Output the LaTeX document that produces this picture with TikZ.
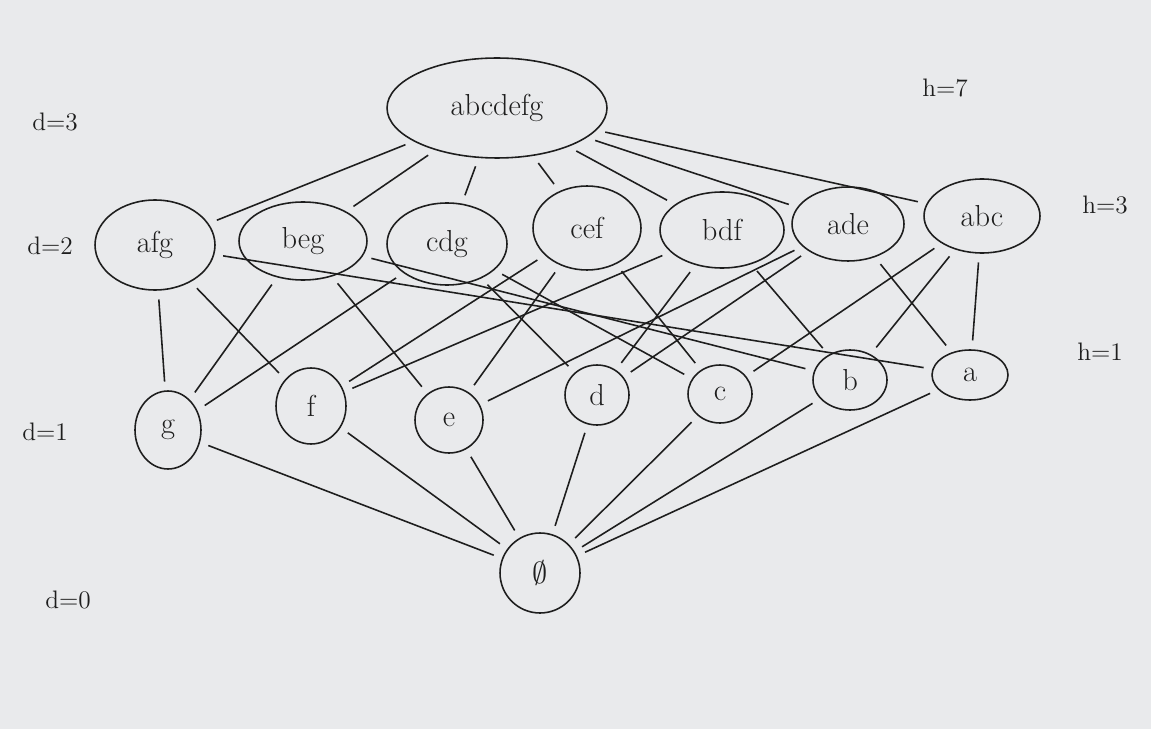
\documentclass[tikz,border=0pt]{standalone}
\usetikzlibrary{shapes.geometric}
\definecolor{paper}{RGB}{233,234,236}
\definecolor{ink}{RGB}{30,30,30}
\tikzset{
  set/.style={ellipse, draw=ink, line width=0.9pt, inner sep=0pt, font=\LARGE, text=ink},
  edge/.style={draw=ink, line width=0.9pt, shorten <=5pt, shorten >=5pt},
  lbl/.style={font=\Large, text=ink}
}
\begin{document}
\begin{tikzpicture}[x=0.02cm, y=-0.02cm]
\fill[paper] (0,0) rectangle (1151,729);
\useasboundingbox (0,0) rectangle (1151,729);
% level 3
\node[set, minimum width=4.4cm, minimum height=2cm] (top) at (497,108) {abcdefg};
% level 2
\node[set, minimum width=2.4cm, minimum height=1.8cm] (afg) at (155,245) {afg};
\node[set, minimum width=2.56cm, minimum height=1.56cm] (beg) at (303,241) {beg};
\node[set, minimum width=2.4cm, minimum height=1.64cm] (cdg) at (447,244) {cdg};
\node[set, minimum width=2.16cm, minimum height=1.68cm] (cef) at (587,228) {cef};
\node[set, minimum width=2.48cm, minimum height=1.52cm] (bdf) at (722,230) {bdf};
\node[set, minimum width=2.24cm, minimum height=1.48cm] (ade) at (848,224) {ade};
\node[set, minimum width=2.32cm, minimum height=1.48cm] (abc) at (982,216) {abc};
% level 1
\node[set, minimum width=1.32cm, minimum height=1.56cm] (g) at (168,430) {g};
\node[set, minimum width=1.4cm, minimum height=1.52cm] (f) at (311,406) {f};
\node[set, minimum width=1.36cm, minimum height=1.32cm] (e) at (449,420) {e};
\node[set, minimum width=1.28cm, minimum height=1.2cm] (d) at (597,395) {d};
\node[set, minimum width=1.28cm, minimum height=1.16cm] (c) at (720,394) {c};
\node[set, minimum width=1.48cm, minimum height=1.2cm] (b) at (850,380) {b};
\node[set, minimum width=1.52cm, minimum height=1.0cm] (a) at (970,375) {a};
% level 0
\node[set, minimum width=1.6cm, minimum height=1.6cm] (empty) at (540,573) {$\emptyset$};
% edges top
\foreach \n in {afg,beg,cdg,cef,bdf,ade,abc} \draw[edge] (top) -- (\n);
% edges level 2 - level 1
\foreach \s/\t in {afg/a,afg/f,afg/g,beg/b,beg/e,beg/g,cdg/c,cdg/d,cdg/g,cef/c,cef/e,cef/f,bdf/b,bdf/d,bdf/f,ade/a,ade/d,ade/e,abc/a,abc/b,abc/c}
  \draw[edge] (\s) -- (\t);
% edges level 1 - empty
\foreach \n in {g,f,e,d,c,b,a} \draw[edge] (\n) -- (empty);
% labels
\node[lbl] (d3) at (55,122) {d=3};
\node[lbl] (d2) at (50,246) {d=2};
\node[lbl] (d1) at (45,432) {d=1};
\node[lbl] (d0) at (68,600) {d=0};
\node[lbl] (h7) at (945,88) {h=7};
\node[lbl] (h3) at (1105,205) {h=3};
\node[lbl] (h1) at (1100,352) {h=1};
\end{tikzpicture}
\end{document}
